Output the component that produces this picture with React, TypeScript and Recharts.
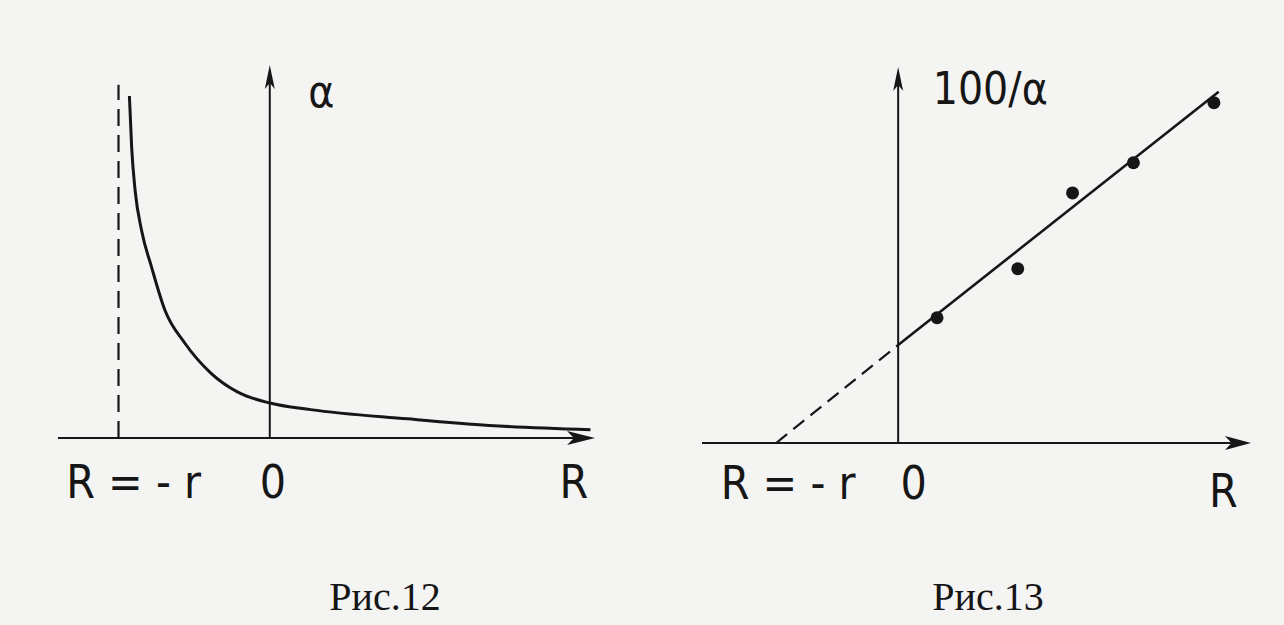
import React from "react";
import { ComposedChart, Line, Scatter, XAxis, YAxis, ReferenceLine, ReferenceDot } from "recharts";

// Рис.12 — alpha against R (R in units of r)
const curveR = [-0.928, -0.913, -0.89, -0.847, -0.781, -0.693, -0.561, -0.388, -0.211, 0, 0.27, 0.91, 1.45, 2.12];
const curveA = [10.36, 8.8, 7.49, 6.28, 5.17, 3.87, 2.87, 1.96, 1.39, 1.06, 0.86, 0.58, 0.38, 0.25];
const asymptoteR = -1;
const asymptoteTop = 10.7;
const leftDomainX = [-1.4, 2.15];
const leftTopY = 11.3;
const leftTicks = [-0.9, 0.02, 2.01];
const leftTickLabels = ["R = - r", "0", "R"];

// Рис.13 — 100/alpha against R
const pointR = [0.325, 1.0, 1.458, 1.967, 2.64];
const pointV = [3.78, 5.26, 7.55, 8.46, 10.27];
const fitR = [-1.02, 0, 2.68];
const fitV = [0, 2.96, 10.6];
const rightDomainX = [-1.64, 2.95];
const rightTopY = 11.35;
const rightTicks = [-0.92, 0.13, 2.72];
const rightTickLabels = ["R = - r", "0", "R"];

const ink = "#161616";
const paper = "#f4f4f3";
const hand = "'Liberation Sans Narrow', 'DejaVu Sans Condensed', 'Liberation Sans', sans-serif";

const toRows = (xs: number[], ys: number[]) => xs.map((x, i) => ({ x, y: ys[i] }));

const curve = toRows(curveR, curveA);
const asymptote = toRows([asymptoteR, asymptoteR], [0, asymptoteTop]);
const points = toRows(pointR, pointV);
const dashedFit = toRows(fitR.slice(0, 2), fitV.slice(0, 2));
const solidFit = toRows(fitR.slice(1), fitV.slice(1));

const arrow = (len: number, half: number, width = 2) => (p: any) => {
  const { x1, y1, x2, y2 } = p;
  const a = Math.atan2(y2 - y1, x2 - x1);
  const c = Math.cos(a);
  const s = Math.sin(a);
  const bx = x2 - len * c;
  const by = y2 - len * s;
  const nx = x2 - len * 0.75 * c;
  const ny = y2 - len * 0.75 * s;
  const pts = [
    [x2, y2],
    [bx - s * half, by + c * half],
    [nx, ny],
    [bx + s * half, by - c * half],
  ]
    .map((q) => q.join(","))
    .join(" ");
  return (
    <g>
      <line x1={x1} y1={y1} x2={nx} y2={ny} stroke={ink} strokeWidth={width} />
      <polygon points={pts} fill={ink} />
    </g>
  );
};

const makeTick = (labels: string[], dys: number[]) => (p: any) => (
  <text
    x={p.x}
    y={p.y + dys[p.index]}
    textAnchor="middle"
    fontFamily={hand}
    fontSize={46}
    fill={ink}
  >
    {labels[p.index]}
  </text>
);

const axisLabel = (text: string) => (p: any) => {
  const { x, y } = p.viewBox;
  return (
    <text x={x} y={y} textAnchor="middle" dominantBaseline="middle" fontFamily={hand} fontSize={44} fill={ink}>
      {text}
    </text>
  );
};

function Fig12() {
  return (
    <div style={{ position: "absolute", left: 48, top: 55 }}>
      <ComposedChart width={557} height={468} margin={{ top: 10, right: 10, left: 10, bottom: 0 }}>
        <XAxis
          dataKey="x"
          type="number"
          domain={leftDomainX}
          allowDataOverflow
          ticks={leftTicks}
          interval={0}
          axisLine={false}
          tickLine={false}
          height={85}
          tick={makeTick(leftTickLabels, [52, 52, 52])}
        />
        <YAxis dataKey="y" type="number" domain={[0, leftTopY]} allowDataOverflow hide />
        <ReferenceLine
          segment={[{ x: leftDomainX[0], y: 0 }, { x: leftDomainX[1], y: 0 }]}
          ifOverflow="extendDomain"
          shape={arrow(28, 7)}
        />
        <ReferenceLine
          segment={[{ x: 0, y: 0 }, { x: 0, y: leftTopY }]}
          ifOverflow="extendDomain"
          shape={arrow(24, 5)}
        />
        <Line
          data={asymptote}
          dataKey="y"
          stroke={ink}
          strokeWidth={2.2}
          strokeDasharray="17 9"
          dot={false}
          activeDot={false}
          isAnimationActive={false}
        />
        <Line
          data={curve}
          dataKey="y"
          type="monotone"
          stroke={ink}
          strokeWidth={3}
          dot={false}
          activeDot={false}
          isAnimationActive={false}
        />
        <ReferenceDot x={0.34} y={10.4} r={0} label={axisLabel("α")} />
      </ComposedChart>
    </div>
  );
}

function Fig13() {
  return (
    <div style={{ position: "absolute", left: 692, top: 57 }}>
      <ComposedChart width={569} height={471} margin={{ top: 10, right: 10, left: 10, bottom: 0 }}>
        <XAxis
          dataKey="x"
          type="number"
          domain={rightDomainX}
          allowDataOverflow
          ticks={rightTicks}
          interval={0}
          axisLine={false}
          tickLine={false}
          height={85}
          tick={makeTick(rightTickLabels, [48, 48, 56])}
        />
        <YAxis dataKey="y" type="number" domain={[0, rightTopY]} allowDataOverflow hide />
        <ReferenceLine
          segment={[{ x: rightDomainX[0], y: 0 }, { x: rightDomainX[1], y: 0 }]}
          ifOverflow="extendDomain"
          shape={arrow(26, 7)}
        />
        <ReferenceLine
          segment={[{ x: 0, y: 0 }, { x: 0, y: rightTopY }]}
          ifOverflow="extendDomain"
          shape={arrow(24, 5)}
        />
        <Line
          data={dashedFit}
          dataKey="y"
          stroke={ink}
          strokeWidth={2.2}
          strokeDasharray="14 8"
          dot={false}
          activeDot={false}
          isAnimationActive={false}
        />
        <Line
          data={solidFit}
          dataKey="y"
          stroke={ink}
          strokeWidth={2.6}
          dot={false}
          activeDot={false}
          isAnimationActive={false}
        />
        <Scatter
          data={points}
          dataKey="y"
          isAnimationActive={false}
          shape={(p: any) => <circle cx={p.cx} cy={p.cy} r={6.5} fill={ink} />}
        />
        <ReferenceDot x={0.77} y={10.6} r={0} label={axisLabel("100/α")} />
      </ComposedChart>
    </div>
  );
}

const caption = {
  position: "absolute" as const,
  top: 573,
  width: 200,
  textAlign: "center" as const,
  fontFamily: "'Liberation Serif', 'Times New Roman', serif",
  fontSize: 40,
  color: ink,
};

export default function App() {
  return (
    <div
      style={{
        position: "absolute",
        left: 0,
        top: 0,
        width: 1284,
        height: 625,
        background: paper,
        overflow: "hidden",
      }}
    >
      <Fig12 />
      <Fig13 />
      <div style={{ ...caption, left: 285 }}>Рис.12</div>
      <div style={{ ...caption, left: 888 }}>Рис.13</div>
    </div>
  );
}
